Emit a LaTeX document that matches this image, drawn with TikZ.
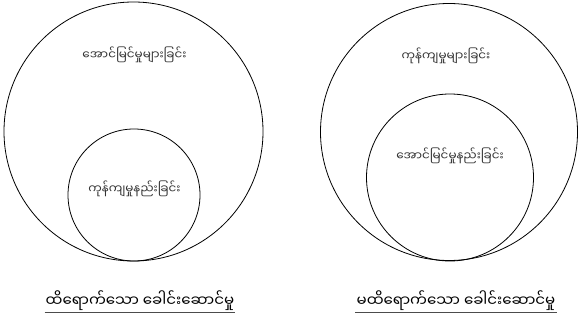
\documentclass[tikz,border=0pt]{standalone}
\usepackage{fontspec}
\newfontfamily\mmfont[Script=Myanmar]{Noto Sans Myanmar UI}
\usepackage{tikz}

\begin{document}
\begin{tikzpicture}[
    x=1pt, y=-1pt,
    ring/.style={draw, circle, inner sep=0pt, line width=0.8pt},
    inlabel/.style={font=\mmfont\fontsize{12}{14}\selectfont, text=black!80},
    caption/.style={font=\mmfont\fontsize{15}{18}\selectfont, inner sep=1pt}
  ]
  \useasboundingbox (0,0) rectangle (578,326);

  % Effective leadership
  \node[ring, minimum size=259pt] (bigL) at (133.5,131.5) {};
  \node[ring, minimum size=132pt] (smallL) at (134,195) {};
  \node[inlabel] (succL) at (134.5,55) {အောင်မြင်မှုများခြင်း};
  \node[inlabel] (costL) at (134.5,189) {ကုန်ကျမှုနည်းခြင်း};
  \node[caption] (capL) at (140,301) {ထိရောက်သော ခေါင်းဆောင်မှု};

  % Ineffective leadership
  \node[ring, minimum size=257pt] (bigR) at (449,132) {};
  \node[ring, minimum size=167pt] (smallR) at (450,177.5) {};
  \node[inlabel] (costR) at (446,56) {ကုန်ကျမှုများခြင်း};
  \node[inlabel] (succR) at (450,156) {အောင်မြင်မှုနည်းခြင်း};
  \node[caption] (capR) at (456,301) {မထိရောက်သော ခေါင်းဆောင်မှု};

  % Underlines
  \draw[line width=0.6pt, black!70] (capL.south west) -- (capL.south east);
  \draw[line width=0.6pt, black!70] (capR.south west) -- (capR.south east);
\end{tikzpicture}
\end{document}
